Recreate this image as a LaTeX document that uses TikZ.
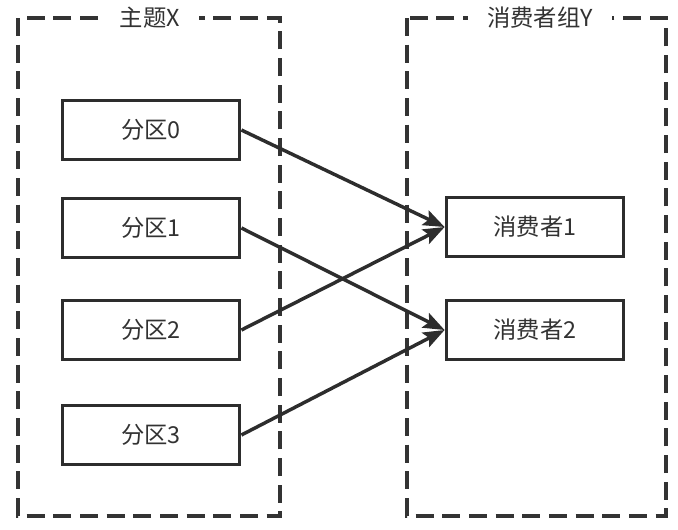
\documentclass[tikz,border=0pt]{standalone}
\usepackage{fontspec}
\setmainfont{Noto Sans CJK SC}
\usepackage{xcolor}
\definecolor{framegrey}{RGB}{51, 51, 51}
\definecolor{boxgrey}{RGB}{45, 45, 45}
\definecolor{textgrey}{RGB}{50, 50, 50}
\usetikzlibrary{arrows.meta, positioning}

\begin{document}
\begin{tikzpicture}[x=0.75pt, y=-0.75pt, >={Stealth[length=16pt, width=12pt, inset=3pt]},
    part/.style={draw=boxgrey, line width=2.6pt, fill=white, minimum width=133pt, minimum height=44pt, inner sep=0pt, text=textgrey, font=\fontsize{17.5}{20}\selectfont},
    frame/.style={draw=framegrey, line width=2.8pt, dash pattern=on 13.5pt off 6.5pt},
    title/.style={fill=white, inner xsep=14pt, inner ysep=3pt, text=textgrey, font=\fontsize{17.5}{20}\selectfont},
    link/.style={->, draw=boxgrey, line width=2.6pt}]
    \useasboundingbox (0,0) rectangle (678,529);

    % dashed group frames
    \draw[frame] (18,18) rectangle (280,516);
    \draw[frame] (407,18) rectangle (666,516);
    \node[title] (topicX) at (150,18) {主题X};
    \node[title] (groupY) at (540,18) {消费者组Y};

    % partitions
    \node[part] (part0) at (151,130) {分区0};
    \node[part] (part1) at (151,228) {分区1};
    \node[part] (part2) at (151,330) {分区2};
    \node[part] (part3) at (151,435) {分区3};

    % consumers
    \node[part] (cons1) at (535,227) {消费者1};
    \node[part] (cons2) at (535,330) {消费者2};

    % assignments
    \draw[link] (part0.east) -- (cons1.west);
    \draw[link] (part2.east) -- (cons1.west);
    \draw[link] (part1.east) -- (cons2.west);
    \draw[link] (part3.east) -- (cons2.west);
\end{tikzpicture}
\end{document}
